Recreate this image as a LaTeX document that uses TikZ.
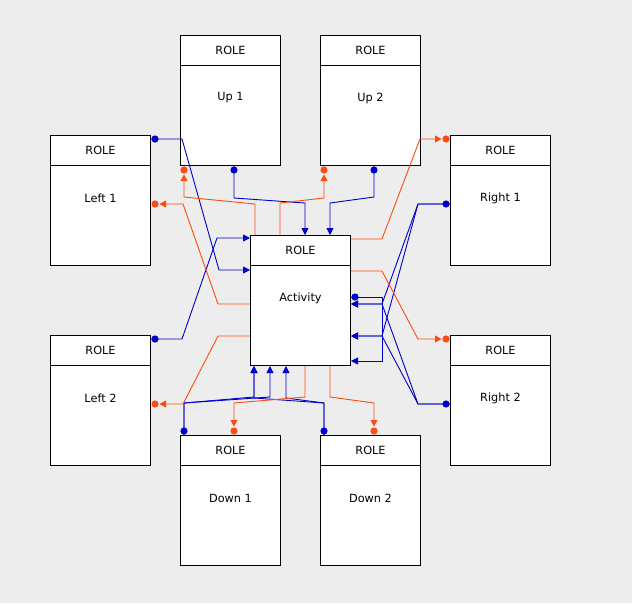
\documentclass[tikz,border=0pt]{standalone}
\usepackage{fontspec}
\setmainfont{DejaVu Sans}
\usetikzlibrary{arrows.meta,calc}
\definecolor{bg}{HTML}{EDEDED}
\definecolor{cblue}{HTML}{0000CC}
\definecolor{corange}{HTML}{FF4A10}
\begin{document}
\begin{tikzpicture}[x=1pt,y=-1pt,
  role/.style={draw=black, fill=white, minimum width=100pt, minimum height=130pt,
    anchor=north west, inner sep=0pt, line width=1pt},
  lbl/.style={font=\fontsize{11.3}{13}\selectfont, text=black, inner sep=0pt},
  bl/.style={draw=cblue, line width=0.9pt, -{Triangle[length=7pt,width=7pt]}},
  og/.style={draw=corange, line width=0.9pt, -{Triangle[length=6.5pt,width=7pt]}, shorten >=8.5pt},
  bdot/.style={fill=cblue},
  odot/.style={fill=corange}
]
\fill[bg] (0,0) rectangle (632,603);
\useasboundingbox (0,0) rectangle (632,603);

\newcommand\rolebox[4]{%
  \node[role] (#1) at (#2,#3) {};
  \draw[line width=1pt] ($(#1.north west)+(0,30)$) -- ($(#1.north east)+(0,30)$);
  \node[lbl] (#1h) at ($(#1.north)+(0,15)$) {ROLE};
  \node[lbl] (#1t) at ($(#1.north)+(0,63)$) {#4};
}
\rolebox{up1}{180}{35}{Up 1}
\rolebox{up2}{320}{35}{Up 2}
\rolebox{left1}{50}{135}{Left 1}
\rolebox{right1}{450}{135}{Right 1}
\rolebox{act}{250}{235}{Activity}
\rolebox{left2}{50}{335}{Left 2}
\rolebox{right2}{450}{335}{Right 2}
\rolebox{down1}{180}{435}{Down 1}
\rolebox{down2}{320}{435}{Down 2}

% ---- blue connectors
\draw[bl] ($(left1.north east)+(0,4)$) -- (182,139) -- (219,270) -- ($(act.north west)+(0,35)$);
\fill[bdot] ($(left1.north east)+(4,4)$) circle (3.6pt);
\draw[bl] ($(left2.north east)+(0,4)$) -- (182,339) -- (217,238) -- ($(act.north west)+(0,3)$);
\fill[bdot] ($(left2.north east)+(4,4)$) circle (3.6pt);
\draw[bl] ($(up1.south west)+(54,0)$) -- (234,198) -- (305,203) -- ($(act.north west)+(55,0)$);
\fill[bdot] ($(up1.south west)+(54,4)$) circle (3.6pt);
\draw[bl] ($(up2.south west)+(54,0)$) -- (374,197) -- (330,203) -- ($(act.north west)+(80,0)$);
\fill[bdot] ($(up2.south west)+(54,4)$) circle (3.6pt);
\draw[bl] ($(right1.north west)+(0,69)$) -- (418,204) -- (382,304) -- ($(act.north east)+(0,69)$);
\draw[bl] ($(right1.north west)+(0,69)$) -- (418,204) -- (382,336) -- ($(act.north east)+(0,101)$);
\fill[bdot] ($(right1.north west)+(-4,69)$) circle (3.6pt);
\draw[bl] ($(right2.north west)+(0,69)$) -- (418,404) -- (382,304) -- ($(act.north east)+(0,69)$);
\draw[bl] ($(right2.north west)+(0,69)$) -- (418,404) -- (382,336) -- ($(act.north east)+(0,101)$);
\fill[bdot] ($(right2.north west)+(-4,69)$) circle (3.6pt);
\draw[bl] ($(act.north east)+(0,62)$) -- (382,297) -- (382,361) -- ($(act.north east)+(0,126)$);
\fill[bdot] ($(act.north east)+(4,62)$) circle (3.6pt);
\draw[bl] ($(down1.north west)+(4,0)$) -- (184,403) -- (254,397) -- ($(act.south west)+(4,0)$);
\draw[bl] ($(down1.north west)+(4,0)$) -- (184,403) -- (270,397) -- ($(act.south west)+(20,0)$);
\fill[bdot] ($(down1.north west)+(4,-4)$) circle (3.6pt);
\draw[bl] ($(down2.north west)+(4,0)$) -- (324,403) -- (286,398) -- ($(act.south west)+(36,0)$);
\draw[bl] ($(down2.north west)+(4,0)$) -- (324,403) -- (254,398) -- ($(act.south west)+(4,0)$);
\fill[bdot] ($(down2.north west)+(4,-4)$) circle (3.6pt);

% ---- orange connectors
\draw[og] ($(act.north west)+(0,69)$) -- (218,304) -- (183,204) -- ($(left1.north east)+(0,69)$);
\fill[odot] ($(left1.north east)+(4,69)$) circle (3.6pt);
\draw[og] ($(act.north west)+(0,101)$) -- (218,336) -- (183,404) -- ($(left2.north east)+(0,69)$);
\fill[odot] ($(left2.north east)+(4,69)$) circle (3.6pt);
\draw[og] ($(act.north west)+(5,0)$) -- (255,204) -- (184,197) -- ($(up1.south west)+(4,0)$);
\fill[odot] ($(up1.south west)+(4,4)$) circle (3.6pt);
\draw[og] ($(act.north west)+(30,0)$) -- (280,203) -- (324,198) -- ($(up2.south west)+(4,0)$);
\fill[odot] ($(up2.south west)+(4,4)$) circle (3.6pt);
\draw[og] ($(act.north east)+(0,4)$) -- (382,239) -- (420,139) -- ($(right1.north west)+(0,4)$);
\fill[odot] ($(right1.north west)+(-4,4)$) circle (3.6pt);
\draw[og] ($(act.north east)+(0,36)$) -- (382,271) -- (418,339) -- ($(right2.north west)+(0,4)$);
\fill[odot] ($(right2.north west)+(-4,4)$) circle (3.6pt);
\draw[og] ($(act.south west)+(55,0)$) -- (305,397) -- (234,403) -- ($(down1.north west)+(54,0)$);
\fill[odot] ($(down1.north west)+(54,-4)$) circle (3.6pt);
\draw[og] ($(act.south west)+(80,0)$) -- (330,397) -- (374,403) -- ($(down2.north west)+(54,0)$);
\fill[odot] ($(down2.north west)+(54,-4)$) circle (3.6pt);
\end{tikzpicture}
\end{document}
